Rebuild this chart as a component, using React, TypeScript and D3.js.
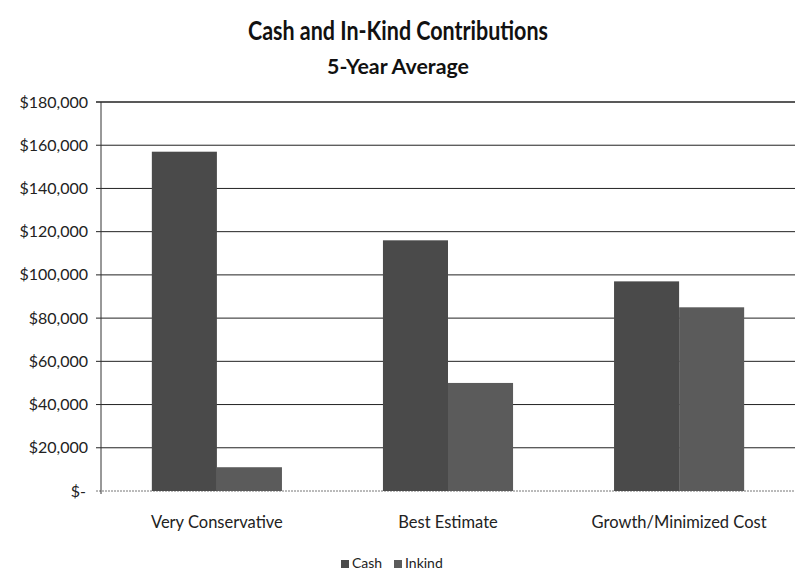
import * as d3 from "d3"

const categories = ["Very Conservative", "Best Estimate", "Growth/Minimized Cost"]
const seriesNames = ["Cash", "Inkind"]
const cashValues = [157000, 116000, 97000]
const inkindValues = [11000, 50000, 85000]
const yTicks = [0, 20000, 40000, 60000, 80000, 100000, 120000, 140000, 160000, 180000]

const W = 795
const H = 579
const margin = { top: 102, right: 0, bottom: 88, left: 101 }
const FONT = "Lato, 'Open Sans', sans-serif"
const colors = ["#4a4a4a", "#5b5b5b"]

export default function App() {
  const x = d3
    .scaleBand<string>()
    .domain(categories)
    .range([margin.left, W - margin.right])
    .paddingInner(0.437)
    .paddingOuter(0.22)
  const inner = d3.scaleBand<string>().domain(seriesNames).range([0, x.bandwidth()])
  const y = d3.scaleLinear().domain([0, 180000]).range([H - margin.bottom, margin.top])

  const fmt = (v: number) => (v === 0 ? "$-" : "$" + d3.format(",")(v))
  const series = [cashValues, inkindValues]

  return (
    <div style={{ position: "absolute", left: 0, top: 0 }}>
      <svg width={W} height={H} style={{ display: "block", background: "#fff" }} fontFamily={FONT}>
        {/* titles */}
        <text
          x={398}
          y={40}
          textAnchor="middle"
          fontSize={26}
          fontWeight="bold"
          fill="#111"
          textLength={300}
          lengthAdjust="spacingAndGlyphs"
        >
          Cash and In-Kind Contributions
        </text>
        <text x={398} y={74} textAnchor="middle" fontSize={20} fontWeight="bold" fill="#111" textLength={142} lengthAdjust="spacingAndGlyphs">
          5-Year Average
        </text>

        {/* gridlines + y labels */}
        {yTicks.map((t) => (
          <g key={t}>
            <line
              x1={margin.left - 5}
              x2={W}
              y1={y(t)}
              y2={y(t)}
              stroke={t === 0 ? "#777" : "#222"}
              strokeWidth={t === 180000 ? 1.4 : 1}
              strokeDasharray={t === 0 ? "2,1" : undefined}
            />
            <text
              x={t === 0 ? 86 : 88}
              y={y(t)}
              dy="0.35em"
              textAnchor="end"
              fontSize={16}
              fill="#222"
            >
              {fmt(t)}
            </text>
          </g>
        ))}
        <line x1={margin.left} x2={margin.left} y1={y(180000)} y2={y(0) + 3} stroke="#333" />

        {/* bars */}
        {categories.map((c, i) => (
          <g key={c}>
            {seriesNames.map((s, j) => (
              <rect
                key={s}
                x={(x(c) ?? 0) + (inner(s) ?? 0)}
                y={y(series[j][i])}
                width={inner.bandwidth()}
                height={y(0) - y(series[j][i])}
                fill={colors[j]}
              />
            ))}
            <text
              x={(x(c) ?? 0) + x.bandwidth() / 2}
              y={528}
              textAnchor="middle"
              fontSize={16.5}
              fill="#222"
            >
              {c}
            </text>
          </g>
        ))}

        {/* legend */}
        <g>
          <rect x={341} y={560} width={8} height={8} fill={colors[0]} />
          <text x={352} y={568} fontSize={14} fill="#222">Cash</text>
          <rect x={394} y={560} width={8} height={8} fill={colors[1]} />
          <text x={405} y={568} fontSize={14} fill="#222">Inkind</text>
        </g>
      </svg>
    </div>
  )
}
